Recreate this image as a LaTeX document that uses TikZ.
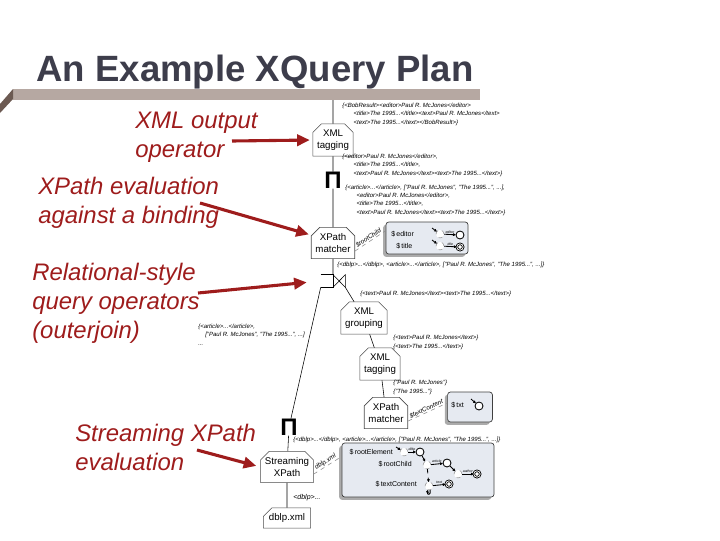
\documentclass[tikz,border=0pt]{standalone}
\usepackage{fontspec}
\setmainfont{Liberation Sans}
\usetikzlibrary{arrows.meta, shapes.misc, shadows, positioning}
\definecolor{titlegray}{RGB}{61,61,75}
\definecolor{annred}{RGB}{158,28,28}
\definecolor{bartan}{RGB}{182,168,162}
\definecolor{bardark}{RGB}{108,90,82}
\definecolor{autofill}{RGB}{230,234,241}
\newcommand*{\tinyfont}{\fontsize{4.3}{5.8}\selectfont\itshape}
\newcommand*{\ind}{\hspace*{8pt}}

\begin{document}
\begin{tikzpicture}[
        x=0.025cm, y=-0.025cm, >={Stealth[round]},
        op/.style={chamfered rectangle, chamfered rectangle corners={north west,north east},
          chamfered rectangle xsep=2.5pt, draw=black!70, fill=white, line width=0.4pt,
          inner sep=0.5pt, minimum width=0.93cm, minimum height=0.78cm,
          font=\fontsize{6.9}{8.6}\selectfont, align=center},
        file/.style={op, chamfered rectangle corners=north west, minimum width=1.18cm, minimum height=0.5cm},
        pisym/.style={font=\fontsize{17}{17}\selectfont\bfseries, inner sep=0pt},
        joinsym/.style={minimum width=0.6cm, minimum height=0.3cm, inner sep=0pt},
        ann/.style={text=annred, font=\fontsize{17}{20.3}\selectfont\itshape, align=left, anchor=base west, inner sep=0pt},
        annarrow/.style={draw=annred, line width=2.2pt, -{Triangle[length=9pt,width=8pt]}},
        data/.style={font=\tinyfont, anchor=base west, inner sep=0pt, align=left},
        autobox/.style={rounded corners=2pt, draw=black!75, fill=autofill, line width=0.5pt,
          drop shadow={shadow xshift=-2pt, shadow yshift=-2pt, opacity=0.6, fill=black!55}},
        link/.style={dashed, draw=black!45, line width=0.4pt},
        lnk/.style={font=\fontsize{4.5}{5}\selectfont\itshape, sloped, above, inner sep=0.5pt},
        var/.style={font=\fontsize{5}{6}\selectfont, inner sep=0pt},
        st/.style={circle, draw, line width=0.6pt, minimum size=0.2cm, inner sep=0pt, fill=white},
        dst/.style={st, dashed, draw=black!50, line width=0.3pt},
        acc/.style={st, double, double distance=0.5pt, minimum size=0.16cm},
        tr/.style={-{Stealth[round,length=2.5pt,width=2.5pt]}, line width=0.6pt},
        elab/.style={font=\fontsize{2.5}{3}\selectfont\itshape, above, inner sep=0.5pt},
        ]
        \useasboundingbox (0,0) rectangle (720,540);

        % title and bar
        \fill[bartan] (13,89) rectangle (480,100);
        \fill[bardark] (0,104) -- (13,89) -- (13,99) -- (0,113) -- cycle;
        \node[font=\fontsize{26}{30}\selectfont\bfseries, text=titlegray, anchor=base, inner sep=0pt]
          (title) at (255,81) {An Example XQuery Plan};

        % plan operators
        \coordinate (top) at (333,100);
        \node[op] (tag1) at (333,140) {XML\\tagging};
        \node[pisym] (pi1) at (333,180) {Π};
        \node[op] (match1) at (333,243) {XPath\\matcher};
        \node[joinsym] (join) at (333,281) {};
        \node[op] (group) at (364,318) {XML\\grouping};
        \node[op] (tag2) at (380,364) {XML\\tagging};
        \node[op] (match2) at (386,413) {XPath\\matcher};
        \node[pisym] (pi2) at (289,427) {Π};
        \node[op, minimum width=1.12cm] (stream) at (287,467) {Streaming\\XPath};
        \node[file] (dblp) at (287,518) {dblp.xml};

        \draw (join.north west) -- (join.north) -- (join.south) -- (join.south west);
        \draw (join.north) -- (join.south east) -- (join.north east) -- (join.south);

        \draw (top) -- (tag1) -- (pi1) -- (match1) -- (join.north);
        \draw (join.south west) -- (pi2) -- (stream) -- (dblp);
        \draw (join.south east) -- (group) -- (tag2) -- (match2);

        % intermediate results (base = last line)
        \node[data] (d1) at (342,124) {\{<BobResult><editor>Paul R. McJones</editor>\\
          \ind<title>The 1995...</title><text>Paul R. McJones</text>\\
          \ind<text>The 1995...</text></BobResult>\}};
        \node[data] (d2) at (342,175) {\{<editor>Paul R. McJones</editor>,\\
          \ind<title>The 1995...</title>,\\
          \ind<text>Paul R. McJones</text><text>The 1995...</text>\}};
        \node[data] (d3) at (345,214) {\{<article>...</article>, ["Paul R. McJones", "The 1995...", ...],\\
          \ind<editor>Paul R. McJones</editor>,\\
          \ind<title>The 1995...</title>,\\
          \ind<text>Paul R. McJones</text><text>The 1995...</text>\}};
        \node[data] (d4) at (337,266) {\{<dblp>...</dblp>, <article>...</article>, ["Paul R. McJones", "The 1995...", ...]\}};
        \node[data] (d5) at (360,295) {\{<text>Paul R. McJones</text><text>The 1995...</text>\}};
        \node[data] (d6) at (393,348) {\{<text>Paul R. McJones</text>\}\\\{<text>The 1995...</text>\}};
        \node[data] (d7) at (393,393) {\{"Paul R. McJones"\}\\\{"The 1995..."\}};
        \node[data] (d8) at (198,345) {\{<article>...</article>,\\
          \hspace*{5pt}["Paul R. McJones", "The 1995...", ...]\\...};
        \node[data] (d9) at (293,441) {\{<dblp>...</dblp>, <article>...</article>, ["Paul R. McJones", "The 1995...", ...]\}};
        \node[font=\fontsize{5}{6}\selectfont\itshape, anchor=base west, inner sep=0pt]
          (dblplbl) at (293,499) {<dblp>...};

        % path automata
        \node[autobox, minimum width=2.05cm, minimum height=0.8cm] (auto1) at (427,238) {};
        \node[autobox, minimum width=1.12cm, minimum height=0.75cm] (auto2) at (470,407) {};
        \node[autobox, minimum width=3.8cm, minimum height=1.35cm] (auto3) at (418,470) {};

        \draw[link] (match1.-20) -- node[lnk] {\$rootChild} (auto1.170);
        \draw[link] (match2.-20) -- node[lnk] {\$textContent} (auto2.170);
        \draw[link] (stream.-15) -- node[lnk] {dblp.xml} (auto3.170);

        \node[var, anchor=west] (ed) at (391,234) {\$\,editor};
        \node[var, anchor=west] (ti) at (396,246) {\$\,title};
        \node[dst] (e0) at (440,234) {};
        \node[st] (e1) at (460,235) {};
        \node[dst] (t0) at (440,246) {};
        \node[acc] (t1) at (460,247) {};
        \draw[tr] ([shift={(-8,-6)}]e0.center) -- (e0);
        \draw[tr] (e0) -- node[elab] {editor} (e1);
        \draw[tr] ([shift={(-8,-6)}]t0.center) -- (t0);
        \draw[tr] (t0) -- node[elab] {title} (t1);

        \node[var, anchor=west] (tx) at (451,405) {\$\,txt};
        \node[st] (x0) at (479,406) {};
        \draw[tr] ([shift={(-8,-7)}]x0.center) -- (x0);

        \node[var, anchor=east] (re) at (393,452) {\$\,rootElement};
        \node[var, anchor=east] (rc) at (412,464) {\$\,rootChild};
        \node[var, anchor=east] (tc) at (417,484) {\$\,textContent};
        \node[dst] (r0) at (404,452) {};
        \node[st] (r1) at (420,452) {};
        \node[dst] (c0) at (427,465) {};
        \node[st] (c1) at (447,463) {};
        \node[dst] (a0) at (458,474) {};
        \node[acc] (a1) at (477,474) {};
        \node[dst] (x1) at (429,486) {};
        \node[acc] (x2) at (449,484) {};
        \draw[tr] ([shift={(-8,-5)}]r0.center) -- (r0);
        \draw[tr] (r0) -- node[elab] {dblp} (r1);
        \draw[tr, dashed] (r1) -- (c0);
        \draw[tr, dashed] (c0) -- (x1);
        \draw[tr] (c0) -- node[elab] {article} (c1);
        \draw[tr] (c1) -- (a0);
        \draw[tr] (a0) -- node[elab] {author} (a1);
        \draw[tr] (x1) -- node[elab] {text} (x2);
        \path[tr] (x1) edge[loop below, min distance=4pt] (x1);

        % annotations (base = last line)
        \node[ann] (xmlout) at (135,157) {XML output\\operator};
        \node[ann] (xpeval) at (38,223) {XPath evaluation\\against a binding};
        \node[ann] (relop) at (32,338) {Relational-style\\query operators\\(outerjoin)};
        \node[ann] (streval) at (75,470) {Streaming XPath\\evaluation};

        \coordinate (a1) at (232,141);
        \coordinate (a2) at (200,203);
        \coordinate (a3) at (198,293);
        \coordinate (a4) at (197,450);
        \draw[annarrow, shorten >=2pt] (a1) -- (tag1.west);
        \draw[annarrow, shorten >=2pt] (a2) -- (match1.160);
        \draw[annarrow, shorten >=10pt] (a3) -- (join.west);
        \draw[annarrow, shorten >=3pt] (a4) -- (stream.west);
      \end{tikzpicture}
\end{document}
